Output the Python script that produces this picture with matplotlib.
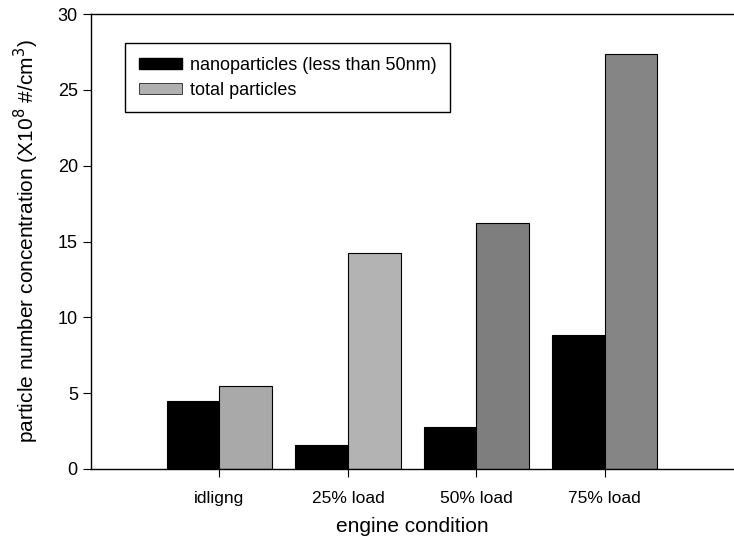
import matplotlib
matplotlib.use("Agg")
import matplotlib.pyplot as plt
from matplotlib.patches import Patch
import numpy as np

plt.rcParams['font.family'] = ['Liberation Sans', 'DejaVu Sans']

categories = ["idligng", "25% load", "50% load", "75% load"]
nano = [4.45, 1.58, 2.77, 8.83]
total = [5.47, 14.24, 16.2, 27.4]
total_colors = ["#a9a9a9", "#b3b3b3", "#7e7e7e", "#858585"]

fig = plt.figure(figsize=(7.34, 5.44), dpi=100)
ax = fig.add_axes([0.124, 0.138, 0.875, 0.836])

x = np.arange(1, len(categories) + 1)
w = 0.41
ax.bar(x - w / 2, nano, w, color="black", edgecolor="black", linewidth=0.8)
ax.bar(x + w / 2, total, w, color=total_colors, edgecolor="black", linewidth=0.8)

ax.set_xlim(0, 5)
ax.set_ylim(0, 30)
ax.set_xticks(x)
ax.set_xticklabels(categories, fontsize=12.5)
ax.set_yticks(np.arange(0, 31, 5))
ax.tick_params(axis='y', labelsize=13, direction='out', length=6)
ax.tick_params(axis='x', direction='out', length=6, pad=10)
ax.spines['right'].set_visible(False)
for s in ['left', 'top', 'bottom']:
    ax.spines[s].set_linewidth(1.0)

ax.set_xlabel("engine condition", fontsize=15, labelpad=8)
ax.set_ylabel("particle number concentration (X10$^8$ #/cm$^3$)", fontsize=15, labelpad=12)

handles = [Patch(facecolor="black", edgecolor="black"),
           Patch(facecolor="#b0b0b0", edgecolor="black", linewidth=0.5)]
labels = ["nanoparticles (less than 50nm)", "total particles"]
leg = ax.legend(handles, labels, loc="upper left", bbox_to_anchor=(0.053, 0.936), fontsize=13,
                frameon=True, fancybox=False, edgecolor="black", framealpha=1,
                handlelength=2.4, handleheight=0.6, handletextpad=0.45,
                borderpad=0.75, labelspacing=0.45, borderaxespad=0)
leg.get_frame().set_linewidth(1.0)

fig.savefig("out.png", dpi=100)
